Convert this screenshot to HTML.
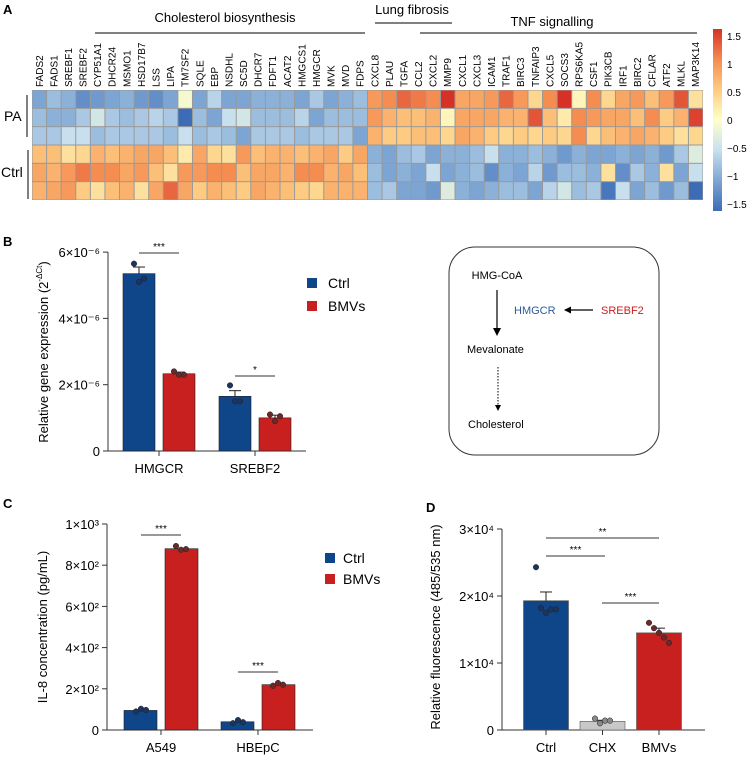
<!DOCTYPE html>
<html><head><meta charset="utf-8"><style>
body{margin:0;background:#fff;}
svg{display:block;font-family:"Liberation Sans",Arial,sans-serif;}
</style></head><body>
<svg id="fig" width="751" height="760" viewBox="0 0 751 760">
<g id="A"></g>
<g id="B"></g>
<g id="Bd"></g>
<g id="C"></g>
<g id="D"></g>
</svg>
<script>
// ---------- Panel A data ----------
const genes = ["FADS2","FADS1","SREBF1","SREBF2","CYP51A1","DHCR24","MSMO1","HSD17B7","LSS","LIPA","TM7SF2","SQLE","EBP","NSDHL","SC5D","DHCR7","FDFT1","ACAT2","HMGCS1","HMGCR","MVK","MVD","FDPS","CXCL8","PLAU","TGFA","CCL2","CXCL2","MMP9","CXCL1","CXCL3","ICAM1","TRAF1","BIRC3","TNFAIP3","CXCL5","SOCS3","RPS6KA5","CSF1","PIK3CB","IRF1","BIRC2","CFLAR","ATF2","MLKL","MAP3K14"];
const rowPA1 = [-1.0,-0.8,-0.9,-1.2,-1.1,-1.0,-0.9,-1.1,-1.2,-1.0,-0.1,-1.0,-0.6,-1.0,-1.0,-0.9,-0.9,-0.9,-1.0,-0.7,-1.0,-0.9,-0.8, 0.9,1.0,1.2,1.1,1.0,1.5,0.8,0.8,0.9,1.2,0.9,0.4,1.0,1.5,0.1,1.0,0.4,0.8,0.9,0.6,0.9,1.3,0.3];
const rowPA2 = [-0.8,-0.9,-0.9,-0.7,-0.4,-0.7,-0.8,-0.7,-0.6,-0.7,-1.5,-0.8,-1.0,-0.5,-0.4,-0.8,-0.8,-0.8,-0.6,-1.0,-0.8,-0.8,-0.8, 0.9,0.7,0.6,0.6,0.7,0.1,0.8,0.8,0.8,0.7,0.7,1.3,0.6,0.2,1.0,0.9,0.8,0.8,0.6,1.0,0.5,0.7,1.4];
const rowPA3 = [-0.7,-0.7,-0.5,-0.5,-0.8,-0.7,-0.7,-0.7,-0.7,-0.8,-0.5,-0.8,-0.7,-0.8,-1.0,-0.7,-0.7,-0.7,-0.8,-0.7,-0.7,-0.7,-1.0, 0.7,0.5,0.5,0.6,0.6,0.4,0.8,0.7,0.5,0.4,0.5,0.4,0.5,0.4,1.0,0.4,0.6,0.7,0.8,0.7,0.5,0.3,0.4];
const rowCtrl1 = [0.6,0.6,0.3,0.4,0.7,0.6,0.7,0.8,0.8,0.6,0.2,0.8,0.4,0.3,0.9,0.6,0.7,0.7,0.6,0.7,0.8,0.5,0.8, -0.9,-1.0,-0.8,-0.7,-1.0,-0.9,-0.9,-0.8,-0.5,-0.9,-0.9,-0.8,-0.9,-1.1,-0.9,-1.0,-1.0,-0.9,-1.0,-0.9,-1.1,-0.7,-0.3];
const rowCtrl2 = [0.8,0.7,0.9,1.1,1.0,1.0,0.8,0.9,0.6,0.3,0.9,0.9,1.0,1.0,0.6,0.8,0.8,0.7,1.0,1.0,0.7,0.8,0.6, -0.8,-1.0,-0.9,-1.0,-0.5,-1.0,-0.9,-0.8,-1.2,-0.9,-1.0,-0.6,-1.1,-0.8,-0.8,-0.9,0.3,-1.2,-0.7,-0.9,0.3,-1.0,-0.5];
const rowCtrl3 = [0.7,0.8,0.9,0.5,0.3,0.6,0.7,0.3,0.8,1.2,0.8,0.5,0.7,0.6,0.5,0.8,0.7,0.6,0.5,0.4,0.7,0.7,0.7, -0.8,-0.7,-1.0,-1.0,-1.1,-0.3,-0.9,-1.0,-0.9,-0.8,-0.8,-1.0,-0.6,-0.4,-0.8,-0.7,-1.4,-0.5,-1.0,-0.8,-1.1,-0.8,-1.5];
const cbTicks = [1.5,1,0.5,0,-0.5,-1,-1.5];
const cbTickLabels = ["1.5","1","0.5","0","\u22120.5","\u22121","\u22121.5"];

// ---------- Panel B data ----------
const bCats = ["HMGCR","SREBF2"];
const bCtrl = [5.35,1.65];
const bBMV = [2.33,1.0];
const bCtrlErr = [0.2,0.17];
const bBMVErr = [0.05,0.08];
const bCtrlPts = [[5.65,5.1,5.2],[1.98,1.5,1.5]];
const bBMVPts = [[2.4,2.3,2.3],[1.1,0.9,1.05]];
const bTicks = [0,2,4,6];
const bTickLabels = ["0","2×10⁻⁶","4×10⁻⁶","6×10⁻⁶"];
const bSig = ["***","*"];

// ---------- Panel C data ----------
const cCats = ["A549","HBEpC"];
const cCtrl = [95,40];
const cBMV = [880,220];
const cCtrlPts = [[90,103,97],[33,48,38]];
const cBMVPts = [[893,875,878],[215,228,220]];
const cTicks = [0,200,400,600,800,1000];
const cTickLabels = ["0","2×10²","4×10²","6×10²","8×10²","1×10³"];
const cSig = ["***","***"];

// ---------- Panel D data ----------
const dCats = ["Ctrl","CHX","BMVs"];
const dVals = [1.93,0.13,1.45];
const dErr = [0.13,0.015,0.07];
const dPts = [[2.43,1.82,1.75,1.8,1.8],[0.17,0.1,0.14,0.14],[1.6,1.52,1.45,1.38,1.3]];
const dTicks = [0,1,2,3];
const dTickLabels = ["0","1×10⁴","2×10⁴","3×10⁴"];

const NS="http://www.w3.org/2000/svg";
function mk(parent,tag,attrs,text){const e=document.createElementNS(NS,tag);for(const k in attrs)e.setAttribute(k,attrs[k]);if(text!==undefined)e.textContent=text;parent.appendChild(e);return e;}

// colormap
const stops=[[-1.5,[59,108,181]],[-1,[125,165,212]],[-0.5,[200,224,238]],[0,[255,255,200]],[0.5,[253,204,130]],[1,[245,140,80]],[1.5,[215,48,39]]];
function cmap(v){v=Math.max(-1.5,Math.min(1.5,v));for(let i=0;i<stops.length-1;i++){const a=stops[i],b=stops[i+1];if(v<=b[0]){const t=(v-a[0])/(b[0]-a[0]);const c=a[1].map((x,j)=>Math.round(x+(b[1][j]-x)*t));return `rgb(${c})`;}}return "rgb(215,48,39)";}

// ---------- Panel A ----------
(function(){
const g=document.getElementById('A');
mk(g,'text',{x:3,y:14,'font-size':13,'font-weight':'bold'},'A');
const x0=32,x1=703,y0=90,y1=200;
const cw=(x1-x0)/genes.length, rh=(y1-y0)/6;
const rows=[rowPA1,rowPA2,rowPA3,rowCtrl1,rowCtrl2,rowCtrl3];
mk(g,'rect',{x:x0,y:y0,width:x1-x0,height:y1-y0,fill:'#999'});
rows.forEach((r,ri)=>r.forEach((v,ci)=>{
 const c=mk(g,'rect',{x:x0+ci*cw+0.5,y:y0+ri*rh+0.5,width:cw-1,height:rh-1,fill:cmap(v)});
 
 
}));
genes.forEach((gn,i)=>{
 const cx=x0+i*cw+cw/2+3.5;
 const t=mk(g,'text',{x:0,y:0,'font-size':10,transform:`translate(${cx},87) rotate(-90)`},gn);
 
 
});
const grp=[["Cholesterol biosynthesis",225,22,95,365,33],["Lung fibrosis",412,14,375,452,23],["TNF signalling",552,26,420,697,33]];
grp.forEach(a=>{
 const t=mk(g,'text',{x:a[1],y:a[2],'font-size':13,'text-anchor':'middle'},a[0]);
 
 mk(g,'line',{x1:a[3],x2:a[4],y1:a[5],y2:a[5],stroke:'#000','stroke-width':1});
});
mk(g,'text',{x:4,y:121,'font-size':14},'PA');
mk(g,'line',{x1:27,x2:27,y1:95,y2:137,stroke:'#000'});
mk(g,'text',{x:1,y:177,'font-size':14},'Ctrl');
mk(g,'line',{x1:28,x2:28,y1:150,y2:199,stroke:'#000'});
// colorbar
const defs=mk(g,'defs',{});const lg=mk(defs,'linearGradient',{id:'cbg',x1:0,y1:1,x2:0,y2:0});
stops.forEach(s=>mk(lg,'stop',{offset:((s[0]+1.5)/3*100)+'%','stop-color':cmap(s[0])}));
const cb=mk(g,'rect',{x:713,y:29,width:9,height:182,fill:'url(#cbg)'});

const cy=v=>36+(1.5-v)/3*168;
cbTicks.forEach((v,i)=>{const t=mk(g,'text',{x:727,y:cy(v)+4,'font-size':10},cbTickLabels[i]);});
})();

// generic bar helper drawing
function axisY(g,x,yScale,ticks,labels,top){
 mk(g,'line',{x1:x,x2:x,y1:yScale(top),y2:yScale(0),stroke:'#333','stroke-width':1});
 ticks.forEach((v,i)=>{mk(g,'line',{x1:x-5,x2:x,y1:yScale(v),y2:yScale(v),stroke:'#333'});
  const t=mk(g,'text',{x:x-8,y:yScale(v)+5,'font-size':13,'text-anchor':'end'},labels[i]);
  });
}
function errbar(g,cx,v,e,ys,hw){mk(g,'line',{x1:cx,x2:cx,y1:ys(v+e),y2:ys(v),stroke:'#222'});mk(g,'line',{x1:cx-hw,x2:cx+hw,y1:ys(v+e),y2:ys(v+e),stroke:'#222'});}
function dots(g,cx,pts,ys,fill){const n=pts.length;pts.forEach((p,i)=>{const d=mk(g,'circle',{cx:cx+(i-(n-1)/2)*5,cy:ys(p),r:2.8,fill:fill,stroke:'#222','stroke-width':0.5});});}
const BLUE='#0f4589',RED='#c8201f';

// ---------- Panel B ----------
(function(){
const g=document.getElementById('B');
mk(g,'text',{x:3,y:246,'font-size':13,'font-weight':'bold'},'B');
const ys=v=>451-v*33.15;
axisY(g,108,ys,bTicks,bTickLabels,6);
mk(g,'line',{x1:108,x2:306,y1:451,y2:451,stroke:'#333'});
const yt=mk(g,'text',{x:0,y:0,'font-size':13,'text-anchor':'middle',transform:'translate(48,352) rotate(-90)'},'Relative gene expression (2');

mk(yt,'tspan',{'font-size':8,dy:-6},'-ΔCt');mk(yt,'tspan',{dy:6},')');
bCats.forEach((c,i)=>{
 const cx=159+i*96;
 mk(g,'line',{x1:cx,x2:cx,y1:451,y2:456,stroke:'#333'});
 mk(g,'text',{x:cx,y:473,'font-size':13,'text-anchor':'middle'},c);
 const b1=mk(g,'rect',{x:cx-36,y:ys(bCtrl[i]),width:32,height:451-ys(bCtrl[i]),fill:BLUE,stroke:'#222','stroke-width':0.6});
 
 const b2=mk(g,'rect',{x:cx+4,y:ys(bBMV[i]),width:32,height:451-ys(bBMV[i]),fill:RED,stroke:'#222','stroke-width':0.6});
 
 errbar(g,cx-20,bCtrl[i],bCtrlErr[i],ys,6);errbar(g,cx+20,bBMV[i],bBMVErr[i],ys,6);
 dots(g,cx-20,bCtrlPts[i],ys,'#1a3560');dots(g,cx+20,bBMVPts[i],ys,'#6a2a2a');
 const top=Math.max(...bCtrlPts[i],...bBMVPts[i]);
 const sy=i==0?253:376;
 mk(g,'line',{x1:cx-20,x2:cx+20,y1:sy,y2:sy,stroke:'#333'});
 mk(g,'text',{x:cx,y:sy-3,'font-size':10,'text-anchor':'middle'},bSig[i]);
});
mk(g,'rect',{x:307,y:278,width:10,height:10,fill:BLUE});
mk(g,'text',{x:328,y:288,'font-size':14},'Ctrl');
mk(g,'rect',{x:307,y:301,width:10,height:10,fill:RED});
mk(g,'text',{x:328,y:311,'font-size':14},'BMVs');
})();

// ---------- Pathway diagram ----------
(function(){
const g=document.getElementById('Bd');
mk(g,'rect',{x:449,y:247,width:210,height:208,rx:26,fill:'none',stroke:'#333','stroke-width':1});
mk(g,'text',{x:497,y:279,'font-size':11,'text-anchor':'middle'},'HMG-CoA');
mk(g,'line',{x1:497,x2:497,y1:290,y2:330,stroke:'#000','stroke-width':1.2});
mk(g,'path',{d:'M493,328 L501,328 L497,336 Z',fill:'#000'});
mk(g,'text',{x:514,y:314,'font-size':11,fill:'#2d5a9c'},'HMGCR');
mk(g,'line',{x1:565,x2:593,y1:310,y2:310,stroke:'#000','stroke-width':1.2});
mk(g,'path',{d:'M564,310 L571,306.5 L571,313.5 Z',fill:'#000'});
mk(g,'text',{x:601,y:314,'font-size':11,fill:'#c8201f'},'SREBF2');
mk(g,'text',{x:467,y:353,'font-size':11},'Mevalonate');
mk(g,'line',{x1:498,x2:498,y1:367,y2:405,stroke:'#000','stroke-width':1,'stroke-dasharray':'1.5,1.5'});
mk(g,'path',{d:'M495,405 L501,405 L498,411 Z',fill:'#000'});
mk(g,'text',{x:468,y:428,'font-size':11},'Cholesterol');
})();

// ---------- Panel C ----------
(function(){
const g=document.getElementById('C');
mk(g,'text',{x:3,y:508,'font-size':13,'font-weight':'bold'},'C');
const ys=v=>730-v*0.206;
axisY(g,107,ys,cTicks,cTickLabels,1000);
mk(g,'line',{x1:107,x2:313,y1:730,y2:730,stroke:'#333'});
mk(g,'text',{x:0,y:0,'font-size':13,'text-anchor':'middle',transform:'translate(47,627) rotate(-90)'},'IL-8 concentration (pg/mL)');
cCats.forEach((c,i)=>{
 const cx=161+i*97;
 mk(g,'line',{x1:cx,x2:cx,y1:730,y2:735,stroke:'#333'});
 mk(g,'text',{x:cx,y:752,'font-size':13,'text-anchor':'middle'},c);
 const b1=mk(g,'rect',{x:cx-37,y:ys(cCtrl[i]),width:33,height:730-ys(cCtrl[i]),fill:BLUE,stroke:'#222','stroke-width':0.6});
 
 const b2=mk(g,'rect',{x:cx+4,y:ys(cBMV[i]),width:33,height:730-ys(cBMV[i]),fill:RED,stroke:'#222','stroke-width':0.6});
 
 dots(g,cx-20,cCtrlPts[i],ys,'#1a3560');dots(g,cx+20,cBMVPts[i],ys,'#6a2a2a');
 const sy=i==0?535:672;
 mk(g,'line',{x1:cx-20,x2:cx+20,y1:sy,y2:sy,stroke:'#333'});
 mk(g,'text',{x:cx,y:sy-3,'font-size':10,'text-anchor':'middle'},cSig[i]);
});
mk(g,'rect',{x:325,y:553,width:10,height:10,fill:BLUE});
mk(g,'text',{x:343,y:563,'font-size':14},'Ctrl');
mk(g,'rect',{x:325,y:574,width:10,height:10,fill:RED});
mk(g,'text',{x:343,y:584,'font-size':14},'BMVs');
})();

// ---------- Panel D ----------
(function(){
const g=document.getElementById('D');
mk(g,'text',{x:426,y:512,'font-size':13,'font-weight':'bold'},'D');
const ys=v=>730-v*67;
axisY(g,502,ys,dTicks,dTickLabels,3);
mk(g,'line',{x1:502,x2:705,y1:730,y2:730,stroke:'#333'});
mk(g,'text',{x:0,y:0,'font-size':13,'text-anchor':'middle',transform:'translate(440,627) rotate(-90)'},'Relative fluorescence (485/535 nm)');
const fills=[BLUE,'#c8c8c8',RED], dotf=['#1a3560','#888','#6a2a2a'];
dCats.forEach((c,i)=>{
 const cx=546+i*56.5;
 mk(g,'line',{x1:cx,x2:cx,y1:730,y2:735,stroke:'#333'});
 mk(g,'text',{x:cx,y:752,'font-size':13,'text-anchor':'middle'},c);
 const b=mk(g,'rect',{x:cx-22.5,y:ys(dVals[i]),width:45,height:730-ys(dVals[i]),fill:fills[i],stroke:'#555','stroke-width':0.6});
 
 errbar(g,cx,dVals[i],dErr[i],ys,6);
 dots(g,cx,dPts[i],ys,dotf[i]);
});
const sig=[[546,659,538,'**'],[546,605,556,'***'],[602,659,603,'***']];
sig.forEach(s=>{mk(g,'line',{x1:s[0],x2:s[1],y1:s[2],y2:s[2],stroke:'#333'});
 mk(g,'text',{x:(s[0]+s[1])/2,y:s[2]-3,'font-size':10,'text-anchor':'middle'},s[3]);});
})();
</script>
</body></html>
